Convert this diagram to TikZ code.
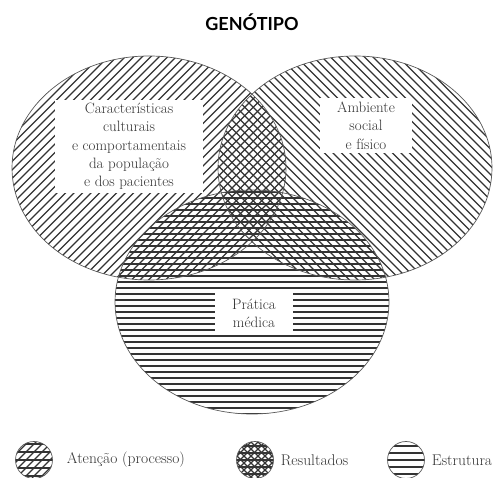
\documentclass[tikz,border=0pt]{standalone}
\usepackage{fontspec}
\newfontfamily\titulo{Lato}
\usetikzlibrary{positioning}
\tikzset{
  hachura/.style={line width=1.1pt, draw=black!80}, % linhas de hachura
  contorno/.style={draw=black!65, line width=0.7pt}, % borda das elipses
  elipse/.style={x radius=137pt, y radius=112pt},
  caixa/.style={fill=white, inner sep=0pt, align=center, text=black!80,
    font=\fontsize{15}{18.3}\selectfont},
  legtexto/.style={inner sep=0pt, text=black!80, font=\fontsize{15.5}{17}\selectfont}
}

\begin{document}
\begin{tikzpicture}[x=1pt, y=-1pt]
\useasboundingbox (0,0) rectangle (499,478);

%Centros
\coordinate (E) at (149,168);
\coordinate (D) at (355,168);
\coordinate (P) at (252,302);

%Hachuras
\begin{scope}
  \clip (E) ellipse [elipse];
  \foreach \i in {-500,-491.5,...,600} \draw[hachura] (\i,478) -- ++(478,-478);
\end{scope}
\begin{scope}
  \clip (D) ellipse [elipse];
  \foreach \i in {-500,-491.5,...,600} \draw[hachura] (\i,0) -- ++(478,478);
\end{scope}
\begin{scope}
  \clip (P) ellipse [elipse];
  \foreach \j in {186,192,...,420} \draw[hachura] (100,\j) -- (400,\j);
\end{scope}

%Contornos
\draw[contorno] (E) ellipse [elipse];
\draw[contorno] (D) ellipse [elipse];
\draw[contorno] (P) ellipse [elipse];

%Textos
\node[font=\titulo\bfseries\fontsize{18}{20}\selectfont] (gen) at (252,22) {GENÓTIPO};
\node[caixa, minimum width=148pt, minimum height=93pt] (carac) at (129,146.5)
  {Características\\culturais\\e comportamentais\\da população\\e dos pacientes};
\node[caixa, minimum width=92pt, minimum height=55pt] (amb) at (366,125.5)
  {Ambiente\\social\\e físico};
\node[caixa, minimum width=78pt, minimum height=40pt] (prat) at (254,313)
  {Prática\\médica};

%Legenda
\node[circle, minimum size=37pt, inner sep=0pt] (leg1) at (34,460) {};
\node[circle, minimum size=37pt, inner sep=0pt] (leg2) at (255,460) {};
\node[circle, minimum size=37pt, inner sep=0pt] (leg3) at (406,460) {};
\begin{scope}
  \clip (leg1.center) circle [radius=18.5pt];
  \foreach \i in {-40,-32,...,80} \draw[hachura] (\i,478) -- ++(40,-40);
  \foreach \j in {444,452,...,478} \draw[hachura] (10,\j) -- (60,\j);
\end{scope}
\begin{scope}
  \clip (leg2.center) circle [radius=18.5pt];
  \foreach \i in {180,187,...,300} \draw[hachura] (\i,478) -- ++(40,-40);
  \foreach \i in {200,207,...,320} \draw[hachura] (\i,440) -- ++(40,40);
  \foreach \j in {446,453,...,478} \draw[hachura] (230,\j) -- (280,\j);
\end{scope}
\begin{scope}
  \clip (leg3.center) circle [radius=18.5pt];
  \foreach \j in {446,453,...,478} \draw[hachura] (380,\j) -- (430,\j);
\end{scope}
\draw[contorno] (leg1.center) circle [radius=18.5pt];
\draw[contorno] (leg2.center) circle [radius=18.5pt];
\draw[contorno] (leg3.center) circle [radius=18.5pt];

\node[legtexto, right=14pt of leg1] (aten) {Atenção (processo)};
\node[legtexto, right=7pt of leg2] (res) {Resultados};
\node[legtexto, right=7pt of leg3] (estr) {Estrutura};
\end{tikzpicture}
\end{document}
